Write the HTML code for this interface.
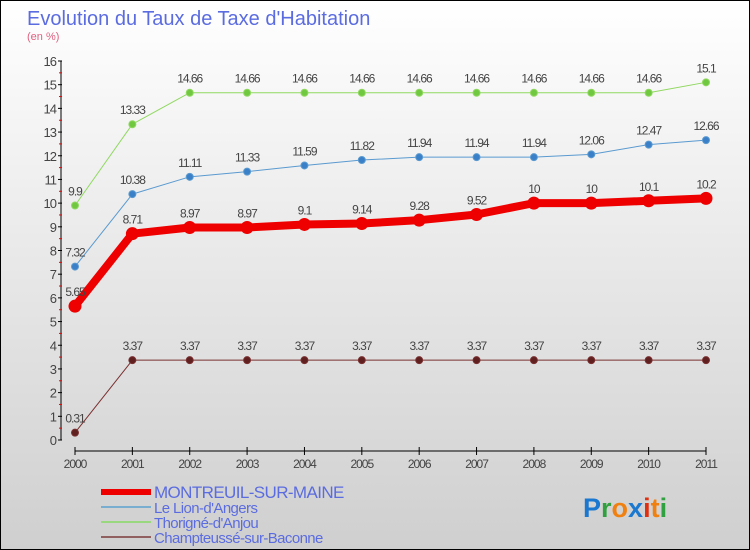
<!DOCTYPE html>
<html><head><meta charset="utf-8"><style>
body{margin:0;width:750px;height:550px;overflow:hidden;font-family:"Liberation Sans",sans-serif}
#wrap{position:absolute;left:0;top:0;width:748px;height:548px;border:1px solid #000;background:linear-gradient(#fff,#cfcfcf)}
</style></head><body>
<div id="wrap">
<svg id="chart" width="750" height="550" style="position:absolute;left:-1px;top:-1px">
<text x="27" y="25" font-size="20" fill="#5b6ce0">Evolution du Taux de Taxe d'Habitation</text>
<text x="27" y="40" font-size="11" fill="#e06080">(en %)</text>
</svg>
</div>
<script>
const years=["2000","2001","2002","2003","2004","2005","2006","2007","2008","2009","2010","2011"];
const montreuil=[5.65,8.71,8.97,8.97,9.1,9.14,9.28,9.52,10,10,10.1,10.2];
const lion=[7.32,10.38,11.11,11.33,11.59,11.82,11.94,11.94,11.94,12.06,12.47,12.66];
const thorigne=[9.9,13.33,14.66,14.66,14.66,14.66,14.66,14.66,14.66,14.66,14.66,15.1];
const champ=[0.31,3.37,3.37,3.37,3.37,3.37,3.37,3.37,3.37,3.37,3.37,3.37];
const yTicks=[0,1,2,3,4,5,6,7,8,9,10,11,12,13,14,15,16];
const montreuilLabels=["5.65","8.71","8.97","8.97","9.1","9.14","9.28","9.52","10","10","10.1","10.2"];
const lionLabels=["7.32","10.38","11.11","11.33","11.59","11.82","11.94","11.94","11.94","12.06","12.47","12.66"];
const thorigneLabels=["9.9","13.33","14.66","14.66","14.66","14.66","14.66","14.66","14.66","14.66","14.66","15.1"];
const champLabels=["0.31","3.37","3.37","3.37","3.37","3.37","3.37","3.37","3.37","3.37","3.37","3.37"];
const svg=document.getElementById('chart');const NS="http://www.w3.org/2000/svg";
function X(i){return 75+i*(706-75)/(years.length-1);}
function Y(v){return 440-v*(440-61)/16;}
function mk(t,a,p){const e=document.createElementNS(NS,t);for(const k in a)e.setAttribute(k,a[k]);(p||svg).appendChild(e);return e;}
let ax=mk('line',{x1:61,y1:Y(16),x2:61,y2:Y(0),stroke:'#000'});


yTicks.forEach(v=>{
  mk('line',{x1:58,x2:62,y1:Y(v),y2:Y(v),stroke:'#000'});
  if(v<16)mk('line',{x1:59,x2:62,y1:Y(v+0.5),y2:Y(v+0.5),stroke:'#e00'});
  const t=mk('text',{x:56,y:Y(v)+5,'text-anchor':'end','font-size':13,fill:'#444','letter-spacing':'-1'});t.textContent=v;
  
  
});
let xa=mk('line',{x1:X(0),y1:451,x2:X(years.length-1),y2:451,stroke:'#000'});


years.forEach((y,i)=>{
  mk('line',{x1:X(i),x2:X(i),y1:447,y2:455,stroke:'#000'});
  const t=mk('text',{x:X(i),y:468,'text-anchor':'middle','font-size':12,fill:'#444','letter-spacing':'-1'});t.textContent=y;
  
  
});
function series(vals,labels,color,dot,w,r,name){
  const g=mk('g',{});
  
  
  mk('polyline',{points:vals.map((v,i)=>X(i)+','+Y(v)).join(' '),fill:'none',stroke:color,'stroke-width':w,'stroke-linejoin':'round'},g);
  vals.forEach((v,i)=>{
    const c=mk('circle',{cx:X(i),cy:Y(v),r:r,fill:dot,stroke:color,'stroke-width':1},g);
    
    
    const t=mk('text',{x:X(i),y:Y(v)-10,'text-anchor':'middle','font-size':12,fill:'#444','letter-spacing':'-1'},g);t.textContent=labels[i];
    
    
  });
}
series(thorigne,thorigneLabels,'#90d860','#70c840',1,3.5,'series-thorigne');
series(lion,lionLabels,'#5a9ad0','#3a80c8',1,3.5,'series-lion');
series(champ,champLabels,'#7a3030','#602020',1,3.5,'series-champteusse');
series(montreuil,montreuilLabels,'#e00','#e00',8,6,'series-montreuil');
const leg=[["MONTREUIL-SUR-MAINE",'#e00',6,17],["Le Lion-d'Angers",'#7aaed0',2,15],["Thorigné-d'Anjou",'#9ad880',2,15],["Champteussé-sur-Baconne",'#906060',2,15]];
leg.forEach((l,i)=>{
  const g=mk('g',{});
  
  
  const y=492+i*15;
  mk('line',{x1:101,x2:151,y1:y,y2:y,stroke:l[1],'stroke-width':l[2]},g);
  const t=mk('text',{x:154,y:y+6,'font-size':l[3],fill:'#5b6ce0','letter-spacing':'-0.6'},g);t.textContent=l[0];
});
const lg=mk('text',{x:583,y:517,'font-size':27,'font-family':'"Liberation Sans",sans-serif','font-weight':'bold'});


[["P",'#1a78d0'],["r",'#30a040'],["o",'#f08010'],["x",'#1a78d0'],["i",'#e03010'],["t",'#f08010'],["i",'#30a040']].forEach(c=>{
  const t=mk('tspan',{fill:c[1]},lg);t.textContent=c[0];
});
</script>
</body></html>
